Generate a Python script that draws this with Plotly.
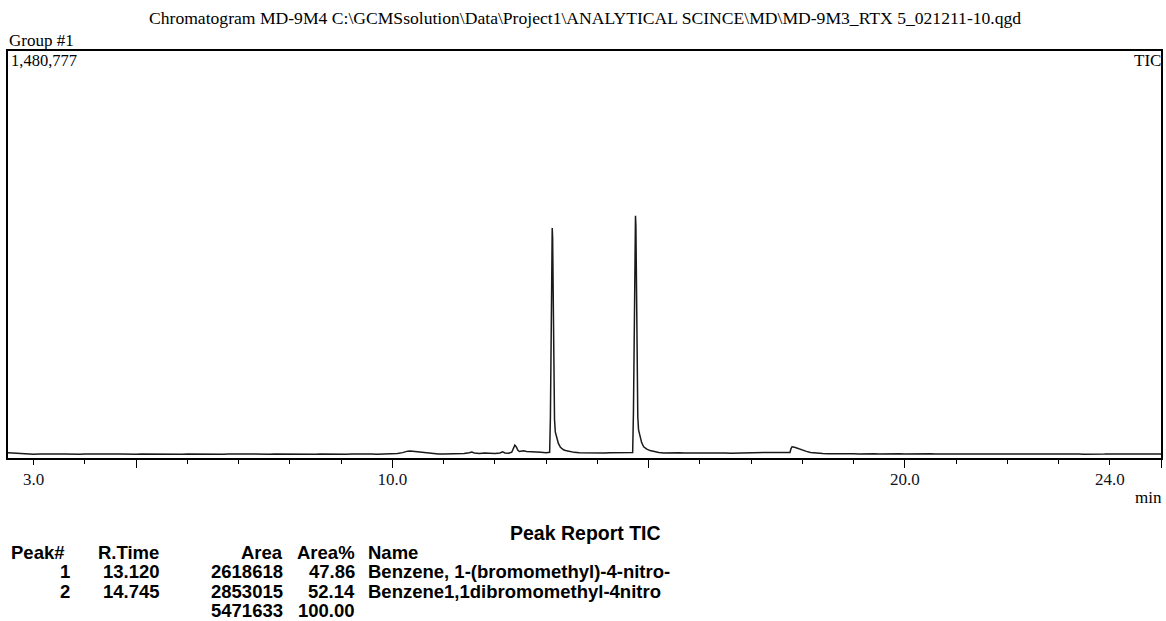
import plotly.graph_objects as go

# ---- TIC trace: retention time (min) and detector counts, segment by segment ----
rt_early = [2.5, 2.6, 2.7, 2.8, 2.9, 3.0, 3.1, 3.2, 3.3, 3.4, 3.5, 3.6, 3.7, 3.8, 3.9,
            4.0, 4.1, 4.2, 4.3, 4.4, 4.5, 4.6, 4.7, 4.8, 4.9, 5.0, 5.1, 5.2, 5.3, 5.4,
            5.5, 5.6, 5.7, 5.8, 5.9, 6.0, 6.1, 6.2, 6.3, 6.4, 6.5, 6.6, 6.7, 6.8, 6.9,
            7.0, 7.1, 7.2, 7.3, 7.4, 7.5, 7.6, 7.7, 7.8, 7.9, 8.0, 8.1, 8.2, 8.3, 8.4,
            8.5, 8.6, 8.7, 8.8, 8.9, 9.0, 9.1, 9.2, 9.3, 9.4, 9.5, 9.6, 9.7, 9.8, 9.9, 10.0]
tic_early = [19000, 17500, 15500, 14200, 14800, 13600, 14400, 13900, 14700, 13500, 14300, 14900, 13800, 14500, 13700,
             14600, 14100, 13600, 14800, 14000, 13500, 14400, 15000, 13900, 14300, 13700, 14600, 14200, 13800, 14900,
             14100, 13600, 14500, 14000, 13700, 14700, 14200, 13900, 14400, 13600, 14800, 14300, 13800, 14500, 14000,
             13500, 14600, 14100, 14900, 13900, 14300, 13700, 14500, 14200, 13800, 14700, 14000, 13600, 14400, 14100,
             13700, 14800, 14200, 13900, 14500, 14000, 13600, 14300, 14900, 14100, 13800, 14400, 14000, 14600, 14200, 14800]

rt_pre = [10.1, 10.2, 10.25, 10.3, 10.35, 10.4, 10.45, 10.5, 10.55, 10.6, 10.7, 10.8, 10.9, 11.0,
          11.1, 11.2, 11.3, 11.4, 11.5, 11.55, 11.6, 11.7, 11.8, 11.9, 12.0, 12.1, 12.15, 12.2,
          12.27, 12.33, 12.36, 12.39, 12.42, 12.45, 12.48, 12.52, 12.56, 12.62, 12.7, 12.8, 12.9,
          13.0, 13.05]
tic_pre = [16500, 19500, 23500, 25000, 25500, 24500, 23800, 24200, 23000, 21500, 17500, 15500, 14800, 14300,
           14900, 14200, 15200, 16800, 19500, 21500, 18000, 16500, 17800, 16200, 16800, 18500, 22500, 18000,
           17000, 21000, 36000, 47000, 40000, 28000, 23500, 25500, 26500, 24000, 22500, 21000, 20500,
           19500, 19000]

# Peak 1, apex at 13.120 min
rt_peak1 = [13.07, 13.085, 13.1, 13.112, 13.12, 13.128, 13.138, 13.15, 13.165, 13.18, 13.21,
            13.24, 13.28, 13.34, 13.4, 13.47, 13.55, 13.65, 13.75, 13.85, 13.95, 14.05,
            14.15, 14.25, 14.35, 14.45, 14.55, 14.63, 14.69]
tic_peak1 = [21000, 150000, 520000, 790000, 837000, 800000, 600000, 300000, 140000, 95000, 70000,
             53000, 39000, 30000, 26000, 22500, 20500, 19500, 18800, 19600, 18500, 19200,
             18400, 19000, 18600, 19400, 18700, 19300, 19800]

# Peak 2, apex at 14.745 min
rt_peak2 = [14.705, 14.72, 14.735, 14.745, 14.753, 14.763, 14.775, 14.79, 14.805, 14.835, 14.865,
            14.905, 14.965, 15.03, 15.1, 15.2, 15.3, 15.4, 15.5, 15.6, 15.7, 15.8, 15.9,
            16.0, 16.1, 16.2, 16.3, 16.4, 16.5, 16.6, 16.7, 16.8, 16.9, 17.0, 17.1, 17.2,
            17.3, 17.4, 17.5, 17.6, 17.7, 17.76, 17.78, 17.8, 17.85, 17.92, 18.0, 18.08,
            18.16, 18.25, 18.35]
tic_peak2 = [165000, 560000, 835000, 881000, 845000, 640000, 320000, 150000, 102000, 73000, 56000,
             41000, 32000, 27000, 23000, 20000, 18500, 19200, 18300, 18900, 18100, 18700, 18200,
             20000, 18400, 17800, 18500, 17900, 18300, 17600, 18200, 17800, 18400, 19000, 21000, 20500,
             21200, 20400, 19800, 19500, 19200, 20000, 34000, 41000, 39000, 34000, 29000, 24000,
             20000, 17500, 16500]

rt_late = [18.4, 18.5, 18.6, 18.7, 18.8, 18.9, 19.0, 19.1, 19.2, 19.3, 19.4, 19.5, 19.6, 19.7,
           19.8, 19.9, 20.0, 20.1, 20.2, 20.3, 20.4, 20.5, 20.6, 20.7, 20.8, 20.9, 21.0, 21.1,
           21.2, 21.3, 21.4, 21.5, 21.6, 21.7, 21.8, 21.9, 22.0, 22.1, 22.2, 22.3, 22.4, 22.5,
           22.6, 22.7, 22.8, 22.9, 23.0, 23.1, 23.2, 23.3, 23.4, 23.5, 23.6, 23.7, 23.8, 23.9,
           24.0, 24.1, 24.2, 24.3, 24.4, 24.5, 24.6, 24.7, 24.8, 24.9, 25.0]
tic_late = [16000, 15300, 15800, 15100, 15600, 14900, 15400, 14800, 15500, 14700, 15200, 14600, 15300, 14900,
            14400, 15100, 14600, 15000, 14300, 14900, 14500, 15100, 14200, 14800, 14400, 15000, 14300, 14700,
            14100, 14900, 14400, 14000, 14700, 14300, 14800, 14100, 14600, 14200, 14900, 14300, 14700, 14000,
            14500, 14200, 14800, 14100, 14600, 14300, 14900, 14200, 14500, 14000, 14700, 14300, 14800, 14100,
            14600, 14200, 14900, 14400, 14000, 14700, 14300, 14800, 14100, 14500, 14300]

rt_min = rt_early + rt_pre + rt_peak1 + rt_peak2 + rt_late
tic_counts = tic_early + tic_pre + tic_peak1 + tic_peak2 + tic_late

full_scale = 1480777
time_window = [2.5, 25.0]
labelled_times = [3.0, 10.0, 20.0, 24.0]

# ---- Peak report ----
report_headers = ["Peak#", "R.Time", "Area", "Area%", "Name"]
peak_no = ["1", "2"]
peak_rt = ["13.120", "14.745"]
peak_area = ["2618618", "2853015"]
peak_area_pct = ["47.86", "52.14"]
peak_name = ["Benzene, 1-(bromomethyl)-4-nitro-", "Benzene1,1dibromomethyl-4nitro"]
total_area = "5471633"
total_pct = "100.00"

title_text = ("Chromatogram MD-9M4 C:\\GCMSsolution\\Data\\Project1\\ANALYTICAL SCINCE"
              "\\MD\\MD-9M3_RTX 5_021211-10.qgd")

W, H = 1166, 621
M_L, M_R, M_T, M_B = 8, 3, 51, 163
PW, PH = W - M_L - M_R, H - M_T - M_B

SERIF = "Liberation Serif, Times New Roman, serif"
SANS = "Liberation Sans, Arial, sans-serif"


def note(px, py, text, xanchor="left", font=SERIF, size=17, bold=False):
    """Place text at a page pixel position (px, py)."""
    return dict(
        x=(px - M_L) / PW, y=(M_T + PH - py) / PH, xref="paper", yref="paper",
        text=f"<b>{text}</b>" if bold else text, showarrow=False,
        xanchor=xanchor, yanchor="middle", borderpad=0,
        font=dict(family=font, size=size, color="#000000"),
    )


fig = go.Figure()
fig.add_trace(go.Scatter(
    x=rt_min, y=tic_counts, mode="lines",
    line=dict(color="#1a1a1a", width=1.5),
    hoverinfo="skip", showlegend=False,
))
# secondary x axis carrying the 1-min minor and 5-min major tick marks
fig.add_trace(go.Scatter(x=[], y=[], xaxis="x2", showlegend=False, hoverinfo="skip"))

annotations = [
    note(586, 18, title_text, xanchor="center", size=17.6),
    note(8, 40, "Group #1"),
    note(10, 61, "1,480,777", size=16.5),
    note(1164, 61, "TIC", xanchor="right"),
    note(1165, 497, "min", xanchor="right"),
]

# peak report table
TAB = 18.5
annotations.append(note(587, 533, "Peak Report TIC", xanchor="center", font=SANS, size=19.5, bold=True))
header_pos = [(10, "left"), (97, "left"), (284, "right"), (357, "right"), (368, "left")]
for (hx, ha), h in zip(header_pos, report_headers):
    annotations.append(note(hx, 552, h, xanchor=ha, font=SANS, size=TAB, bold=True))
row_y = [571.5, 591]
for i in range(len(peak_no)):
    y = row_y[i]
    annotations.append(note(71, y, peak_no[i], xanchor="right", font=SANS, size=TAB, bold=True))
    annotations.append(note(161, y, peak_rt[i], xanchor="right", font=SANS, size=TAB, bold=True))
    annotations.append(note(284, y, peak_area[i], xanchor="right", font=SANS, size=TAB, bold=True))
    annotations.append(note(357, y, peak_area_pct[i], xanchor="right", font=SANS, size=TAB, bold=True))
    annotations.append(note(368, y, peak_name[i], xanchor="left", font=SANS, size=TAB, bold=True))
annotations.append(note(284, 610.5, total_area, xanchor="right", font=SANS, size=TAB, bold=True))
annotations.append(note(357, 610.5, total_pct, xanchor="right", font=SANS, size=TAB, bold=True))

fig.update_layout(
    width=W, height=H,
    margin=dict(l=M_L, r=M_R, t=M_T, b=M_B, pad=0),
    paper_bgcolor="white", plot_bgcolor="white",
    showlegend=False,
    xaxis=dict(
        range=time_window, showgrid=False, zeroline=False,
        showline=True, mirror=True, linecolor="black", linewidth=1.6,
        tickmode="array", tickvals=labelled_times,
        ticktext=[f"{v:.1f}" for v in labelled_times],
        ticks="outside", ticklen=5, tickwidth=1.3, tickcolor="black",
        tickfont=dict(family=SERIF, size=17, color="#111122"),
    ),
    xaxis2=dict(
        range=time_window, overlaying="x", anchor="y", side="bottom",
        showgrid=False, zeroline=False, showline=False, showticklabels=False,
        tickmode="linear", tick0=0, dtick=5,
        ticks="outside", ticklen=9, tickwidth=1.3, tickcolor="black",
        minor=dict(dtick=1, tick0=0, ticks="outside", ticklen=5, tickwidth=1.3,
                   tickcolor="black", showgrid=False),
    ),
    yaxis=dict(
        range=[0, full_scale], showgrid=False, zeroline=False,
        showline=True, mirror=True, linecolor="black", linewidth=1.6,
        showticklabels=False, ticks="",
    ),
    annotations=annotations,
)

fig.write_html("out.html")
